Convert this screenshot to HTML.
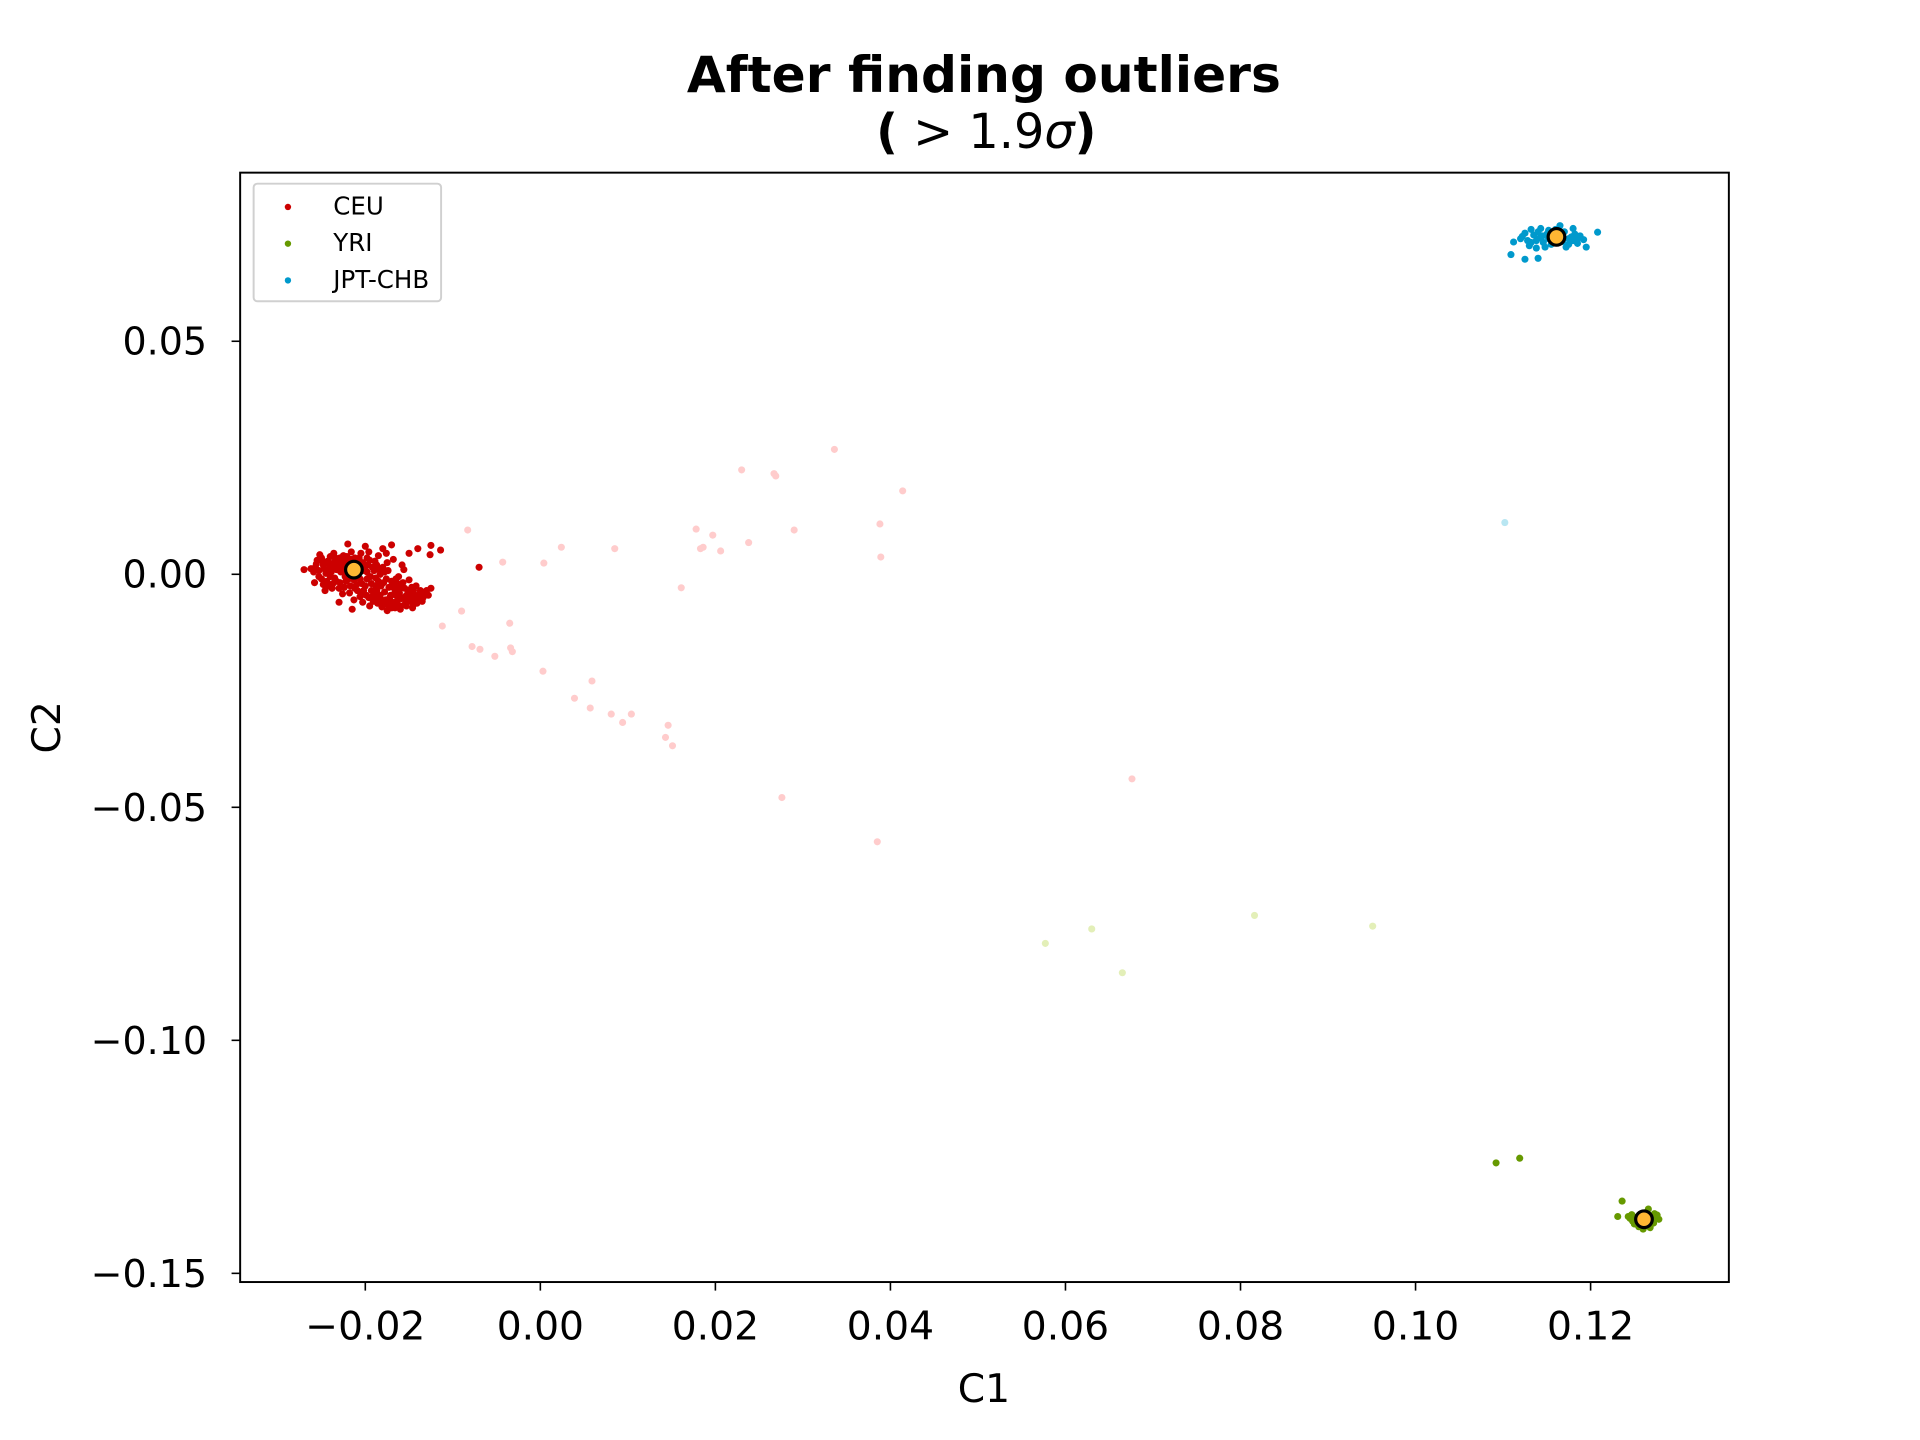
<!DOCTYPE html>
<html><head><meta charset="utf-8"><style>
html,body{margin:0;padding:0;background:#fff;}
svg{display:block;font-family:"DejaVu Sans","Liberation Sans",sans-serif;}
</style></head><body>
<svg id="chart" width="1920" height="1440" viewBox="0 0 1567 1176" preserveAspectRatio="none" xmlns="http://www.w3.org/2000/svg">
<rect x="0" y="0" width="1567" height="1176" fill="#fff"/>
<text x="803" y="75" text-anchor="middle" font-size="41" font-weight="bold">After finding outliers</text>
<text x="805" y="121" text-anchor="middle" font-size="39"><tspan font-weight="bold">(</tspan><tspan> &gt; 1.9</tspan><tspan font-style="italic">σ</tspan><tspan font-weight="bold">)</tspan></text>
<g id="marks"></g>
<g id="axes"></g>
<rect x="196" y="141" width="1215" height="906" fill="none" stroke="#000" stroke-width="1.6"/>
<g>
<rect x="207" y="150" width="153" height="96" rx="3" fill="#fff" fill-opacity="0.8" stroke="#d0d0d0" stroke-width="1.6"/>
<circle cx="235" cy="169" r="2.6" fill="#cc0000"/>
<text x="272" y="175" font-size="20">CEU</text>
<circle cx="235" cy="199" r="2.6" fill="#669900"/>
<text x="272" y="205" font-size="20">YRI</text>
<circle cx="235" cy="229" r="2.6" fill="#0099cc"/>
<text x="272" y="235" font-size="20">JPT-CHB</text>
</g>
<text x="803" y="1145" text-anchor="middle" font-size="32">C1</text>
<text x="0" y="0" text-anchor="middle" font-size="32" transform="translate(49,594) rotate(-90)">C2</text>
</svg>
<script>
const xTicks = [-0.02, 0.00, 0.02, 0.04, 0.06, 0.08, 0.10, 0.12];
const xTickLabels = ["−0.02","0.00","0.02","0.04","0.06","0.08","0.10","0.12"];
const yTicks = [0.05, 0.00, -0.05, -0.10, -0.15];
const yTickLabels = ["0.05","0.00","−0.05","−0.10","−0.15"];

const ceuPoints = [[-0.0262,0.0012],[-0.0255,0.0030],[-0.0250,-0.0010],[-0.0248,0.0020],[-0.0245,0.0002],[-0.0242,-0.0025],[-0.0240,0.0038],[-0.0238,0.0015],[-0.0235,-0.0008],[-0.0232,0.0028],[-0.0230,-0.0030],[-0.0228,0.0005],[-0.0225,0.0040],[-0.0222,-0.0015],[-0.0220,0.0022],[-0.0218,-0.0040],[-0.0215,0.0010],[-0.0212,0.0035],[-0.0210,-0.0022],[-0.0208,0.0000],[-0.0205,0.0045],[-0.0202,-0.0035],[-0.0200,0.0018],[-0.0198,-0.0010],[-0.0195,0.0030],[-0.0192,-0.0048],[-0.0190,0.0008],[-0.0188,-0.0025],[-0.0185,0.0040],[-0.0182,-0.0055],[-0.0180,0.0015],[-0.0178,-0.0038],[-0.0175,0.0025],[-0.0172,-0.0062],[-0.0170,-0.0015],[-0.0168,0.0032],[-0.0165,-0.0045],[-0.0162,-0.0005],[-0.0160,-0.0068],[-0.0158,0.0020],[-0.0155,-0.0030],[-0.0152,-0.0055],[-0.0150,-0.0012],[-0.0148,-0.0040],[-0.0145,-0.0065],[-0.0142,-0.0025],[-0.0140,-0.0048],[-0.0137,-0.0035],[-0.0135,-0.0058],[-0.0132,-0.0042],[-0.0128,-0.0045],[-0.0125,-0.0030],[-0.0258,-0.0018],[-0.0252,0.0042],[-0.0246,-0.0035],[-0.0236,0.0045],[-0.0226,-0.0042],[-0.0216,0.0048],[-0.0206,-0.0048],[-0.0196,0.0048],[-0.0186,-0.0062],[-0.0176,0.0045],[-0.0166,-0.0072],[-0.0156,0.0010],[-0.0146,-0.0072],[-0.0233,0.0010],[-0.0223,-0.0005],[-0.0213,-0.0012],[-0.0203,0.0025],[-0.0193,-0.0020],[-0.0183,0.0000],[-0.0173,-0.0028],[-0.0163,-0.0020],[-0.0153,-0.0045],[-0.0143,-0.0055],[-0.0183,-0.0045],[-0.0193,-0.0035],[-0.0203,-0.0060],[-0.0213,-0.0055],[-0.0223,0.0030],[-0.0243,0.0028],[-0.0253,0.0008],[-0.0270,0.0010],[-0.0220,0.0065],[-0.0200,0.0060],[-0.0180,0.0055],[-0.0170,0.0063],[-0.0150,0.0045],[-0.0140,0.0055],[-0.0125,0.0062],[-0.0126,0.0042],[-0.0114,0.0052],[-0.0070,0.0015],[-0.0230,-0.0060],[-0.0215,-0.0075],[-0.0175,-0.0078],[-0.0160,-0.0075],
[-0.0259,0.0005],[-0.0256,0.0022],[-0.0253,-0.0005],[-0.0250,0.0035],[-0.0247,0.0012],[-0.0244,-0.0015],[-0.0241,0.0022],[-0.0239,0.0005],[-0.0237,-0.0020],[-0.0234,0.0035],[-0.0231,0.0018],[-0.0229,-0.0018],[-0.0227,0.0012],[-0.0224,-0.0028],[-0.0221,0.0038],[-0.0219,0.0002],[-0.0217,-0.0025],[-0.0214,0.0028],[-0.0211,0.0015],[-0.0209,-0.0035],[-0.0207,0.0035],[-0.0204,-0.0020],[-0.0201,0.0008],[-0.0199,-0.0045],[-0.0197,0.0020],[-0.0194,-0.0005],[-0.0191,-0.0058],[-0.0189,0.0028],[-0.0187,-0.0035],[-0.0184,0.0010],[-0.0181,-0.0070],[-0.0179,-0.0018],[-0.0177,-0.0055],[-0.0174,0.0008],[-0.0171,-0.0045],[-0.0169,-0.0060],[-0.0167,-0.0030],[-0.0164,-0.0058],[-0.0161,-0.0040],[-0.0159,-0.0052],[-0.0157,-0.0018],[-0.0154,-0.0062],[-0.0151,-0.0035],[-0.0149,-0.0052],[-0.0147,-0.0028],[-0.0144,-0.0045],[-0.0141,-0.0062],[-0.0138,-0.0042],[-0.0134,-0.0050],[-0.0130,-0.0035],[-0.0195,-0.0068],[-0.0205,-0.0040],[-0.0185,-0.0015],[-0.0175,-0.0065],[-0.0165,-0.0010],[-0.0218,0.0015],[-0.0228,0.0025],[-0.0238,-0.0030],[-0.0248,-0.0022],[-0.0208,0.0012],
[-0.0257,0.0015],[-0.0249,0.0028],[-0.0244,0.0010],[-0.0240,-0.0005],[-0.0236,0.0025],[-0.0233,-0.0015],[-0.0229,0.0035],[-0.0226,0.0018],[-0.0224,0.0008],[-0.0219,-0.0010],[-0.0216,0.0032],[-0.0212,-0.0030],[-0.0209,0.0022],[-0.0206,-0.0010],[-0.0204,0.0015],[-0.0200,-0.0025],[-0.0198,0.0035],[-0.0196,-0.0050],[-0.0192,0.0015],[-0.0190,-0.0040],[-0.0187,0.0020],[-0.0185,-0.0050],[-0.0182,-0.0025],[-0.0178,-0.0062],[-0.0176,-0.0010],[-0.0172,-0.0050],[-0.0170,-0.0072],[-0.0166,-0.0038],[-0.0163,-0.0065],[-0.0160,-0.0030],[-0.0156,-0.0050],[-0.0153,-0.0068],[-0.0148,-0.0058],[-0.0145,-0.0035],[-0.0139,-0.0055],[-0.0136,-0.0045],[-0.0188,-0.0008],[-0.0178,0.0005],[-0.0168,-0.0022],[-0.0198,0.0005]];
const ceuOutliers = [[-0.0083,0.0095],[-0.0043,0.0026],[0.0004,0.0024],[0.0024,0.0058],[0.0085,0.0055],[-0.0112,-0.0111],[-0.0090,-0.0079],[-0.0078,-0.0155],[-0.0069,-0.0161],[-0.0052,-0.0176],[-0.0035,-0.0105],[-0.0034,-0.0158],[-0.0032,-0.0166],[0.0003,-0.0208],[0.0039,-0.0266],[0.0059,-0.0229],[0.0057,-0.0287],[0.0081,-0.0300],[0.0094,-0.0318],[0.0104,-0.0300],[0.0146,-0.0324],[0.0143,-0.0350],[0.0151,-0.0368],[0.0161,-0.0029],[0.0178,0.0097],[0.0183,0.0055],[0.0186,0.0058],[0.0197,0.0084],[0.0206,0.0050],[0.0230,0.0224],[0.0238,0.0068],[0.0267,0.0216],[0.0269,0.0211],[0.0290,0.0095],[0.0336,0.0268],[0.0388,0.0108],[0.0389,0.0037],[0.0414,0.0179],[0.0276,-0.0479],[0.0385,-0.0574],[0.0676,-0.0439]];
const yriPoints = [[0.1261,-0.1384],[0.1252,-0.1380],[0.1248,-0.1388],[0.1256,-0.1376],[0.1266,-0.1378],[0.1270,-0.1386],[0.1272,-0.1392],[0.1258,-0.1395],[0.1264,-0.1398],[0.1250,-0.1394],[0.1245,-0.1382],[0.1275,-0.1380],[0.1278,-0.1384],[0.1262,-0.1370],[0.1266,-0.1362],[0.1255,-0.1400],[0.1268,-0.1402],[0.1243,-0.1378],[0.1231,-0.1378],[0.1236,-0.1345],[0.1276,-0.1375],[0.1260,-0.1405],[0.1253,-0.1388],[0.1269,-0.1393],[0.1247,-0.1374],[0.1273,-0.1372],[0.1092,-0.1263],[0.1119,-0.1253]];
const yriOutliers = [[0.0577,-0.0792],[0.0630,-0.0761],[0.0665,-0.0855],[0.0816,-0.0732],[0.0951,-0.0755]];
const jptPoints = [[0.1161,0.0724],[0.1150,0.0730],[0.1142,0.0722],[0.1135,0.0728],[0.1128,0.0716],[0.1120,0.0720],[0.1112,0.0713],[0.1146,0.0712],[0.1155,0.0708],[0.1168,0.0714],[0.1175,0.0720],[0.1182,0.0730],[0.1188,0.0726],[0.1192,0.0718],[0.1170,0.0735],[0.1160,0.0740],[0.1152,0.0738],[0.1165,0.0748],[0.1140,0.0735],[0.1130,0.0705],[0.1138,0.0700],[0.1148,0.0702],[0.1172,0.0702],[0.1185,0.0710],[0.1195,0.0702],[0.1208,0.0734],[0.1180,0.0742],[0.1109,0.0686],[0.1125,0.0676],[0.1140,0.0678],[0.1158,0.0718],[0.1145,0.0726],[0.1178,0.0724],[0.1125,0.0732],[0.1132,0.0740],[0.1138,0.0716],[0.1152,0.0720],[0.1175,0.0708],[0.1185,0.0720],[0.1122,0.0725],[0.1143,0.0742],[0.1167,0.0728],[0.1180,0.0716],[0.1132,0.0712]];
const jptOutliers = [[0.1102,0.0111]];
const centroids = [[-0.0213,0.0010],[0.1261,-0.1384],[0.1161,0.0724]];

const plotLeft = 196, plotRight = 1411, plotTop = 141, plotBottom = 1047;
function xPos(v){ return 441 + (v - 0) * 7143; }
function yPos(v){ return 469 - (v - 0) * 3806; }

const NS = "http://www.w3.org/2000/svg";
const marks = document.getElementById('marks');
const axes = document.getElementById('axes');

function drawSeries(pts, color, name){
  const g = document.createElementNS(NS,'g');
  
  
  pts.forEach(p => {
    const c = document.createElementNS(NS,'circle');
    
    
    c.setAttribute('cx', xPos(p[0]));
    c.setAttribute('cy', yPos(p[1]));
    c.setAttribute('r', 2.9);
    c.setAttribute('fill', color);
    g.appendChild(c);
  });
  marks.appendChild(g);
}
drawSeries(ceuOutliers, '#ffcccc', 'ceu-outliers');
drawSeries(yriOutliers, '#e3efb8', 'yri-outliers');
drawSeries(jptOutliers, '#b8e6f2', 'jpt-chb-outliers');
drawSeries(ceuPoints, '#cc0000', 'ceu-series');
drawSeries(yriPoints, '#669900', 'yri-series');
drawSeries(jptPoints, '#0099cc', 'jpt-chb-series');
centroids.forEach(p => {
  const c = document.createElementNS(NS,'circle');
  
  
  c.setAttribute('cx', xPos(p[0]));
  c.setAttribute('cy', yPos(p[1]));
  c.setAttribute('r', 6.8);
  c.setAttribute('fill', '#ffb733');
  c.setAttribute('stroke', '#000');
  c.setAttribute('stroke-width', 2.6);
  marks.appendChild(c);
});

xTicks.forEach((t,i) => {
  const x = xPos(t);
  const l = document.createElementNS(NS,'line');
  
  
  l.setAttribute('x1', x); l.setAttribute('x2', x);
  l.setAttribute('y1', plotBottom); l.setAttribute('y2', plotBottom + 7);
  l.setAttribute('stroke', '#000'); l.setAttribute('stroke-width', 1.3);
  axes.appendChild(l);
  const tx = document.createElementNS(NS,'text');
  
  
  tx.setAttribute('x', x); tx.setAttribute('y', plotBottom + 47);
  tx.setAttribute('text-anchor', 'middle');
  tx.setAttribute('font-size', '32');
  tx.textContent = xTickLabels[i];
  axes.appendChild(tx);
});
yTicks.forEach((t,i) => {
  const y = yPos(t);
  const l = document.createElementNS(NS,'line');
  
  
  l.setAttribute('x1', plotLeft - 7); l.setAttribute('x2', plotLeft);
  l.setAttribute('y1', y); l.setAttribute('y2', y);
  l.setAttribute('stroke', '#000'); l.setAttribute('stroke-width', 1.3);
  axes.appendChild(l);
  const tx = document.createElementNS(NS,'text');
  
  
  tx.setAttribute('x', plotLeft - 27); tx.setAttribute('y', y + 11);
  tx.setAttribute('text-anchor', 'end');
  tx.setAttribute('font-size', '31');
  tx.textContent = yTickLabels[i];
  axes.appendChild(tx);
});
</script>
</body></html>
